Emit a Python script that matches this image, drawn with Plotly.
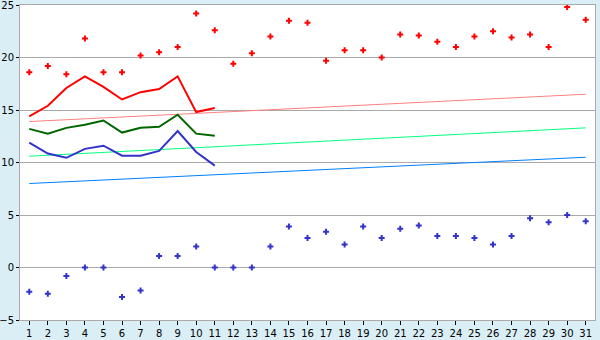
import plotly.graph_objects as go

days = list(range(1, 32))
day_labels = [str(d) for d in days]

max_temps = [18.6, 19.2, 18.4, 21.8, 18.6, 18.6, 20.2, 20.5, 21.0, 24.2, 22.6,
             19.4, 20.4, 22.0, 23.5, 23.3, 19.7, 20.7, 20.7, 20.0, 22.2,
             22.1, 21.5, 21.0, 22.0, 22.5, 21.9, 22.2, 21.0, 24.8, 23.6]
min_temps = [-2.3, -2.5, -0.8, 0.0, 0.0, -2.8, -2.2, 1.1, 1.1, 2.0, 0.0,
             0.0, 0.0, 2.0, 3.9, 2.8, 3.4, 2.2, 3.9, 2.8, 3.7,
             4.0, 3.0, 3.0, 2.8, 2.2, 3.0, 4.7, 4.3, 5.0, 4.4]

obs_days = list(range(1, 12))
obs_max_avg = [14.4, 15.4, 17.1, 18.2, 17.2, 16.0, 16.7, 17.0, 18.2, 14.8, 15.2]
obs_mean_avg = [13.2, 12.75, 13.3, 13.6, 14.0, 12.85, 13.3, 13.4, 14.55, 12.75, 12.55]
obs_min_avg = [11.9, 10.85, 10.45, 11.3, 11.6, 10.65, 10.65, 11.1, 13.0, 11.0, 9.7]

norm_days = [1, 31]
norm_max = [13.9, 16.5]
norm_mean = [10.6, 13.3]
norm_min = [8.0, 10.5]

fig = go.Figure()

def line(x, y, color, width):
    fig.add_trace(go.Scatter(x=x, y=y, mode="lines",
                             line=dict(color=color, width=width), hoverinfo="skip"))

line(norm_days, norm_max, "#FF8080", 1)
line(norm_days, norm_mean, "#00FF80", 1)
line(norm_days, norm_min, "#0080FF", 1)
line(obs_days, obs_max_avg, "#FF0000", 2)
line(obs_days, obs_mean_avg, "#006600", 2)
line(obs_days, obs_min_avg, "#3333CC", 2)

fig.add_trace(go.Scatter(x=days, y=max_temps, mode="markers",
                         marker=dict(symbol="cross", size=5, color="#FF0000")))
fig.add_trace(go.Scatter(x=days, y=min_temps, mode="markers",
                         marker=dict(symbol="cross", size=5, color="#3333CC")))

fig.update_layout(
    width=600, height=340,
    margin=dict(l=20, r=5, t=5, b=20),
    paper_bgcolor="#DAEEF5",
    plot_bgcolor="#FFFFFF",
    showlegend=False,
    font=dict(family="DejaVu Sans", size=10, color="#000000"),
)
fig.update_xaxes(
    range=[0.5, 31.5], tickmode="array", tickvals=days, ticktext=day_labels,
    showgrid=False, zeroline=False, showline=True, linecolor="#AAAAAA",
    linewidth=1, mirror=True, ticks="outside", ticklen=4, tickcolor="#000000",
    tickfont=dict(size=10), automargin=False, ticklabeloverflow="allow",
)
fig.update_yaxes(
    range=[-5, 25], tickmode="array", tickvals=[-5, 0, 5, 10, 15, 20, 25],
    showgrid=True, gridcolor="#AAAAAA", gridwidth=1, zeroline=False,
    showline=True, linecolor="#AAAAAA", linewidth=1, mirror=True,
    ticks="outside", ticklen=3, tickcolor="#000000", tickfont=dict(size=10),
    automargin=False, ticklabeloverflow="allow",
)

fig.write_html("out.html")
